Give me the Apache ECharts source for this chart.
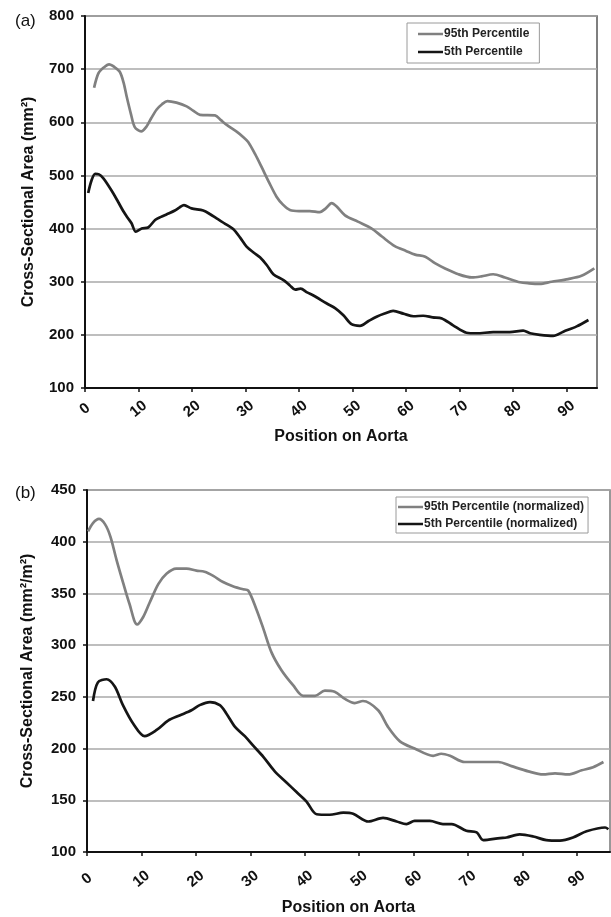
<!DOCTYPE html>
<html>
<head>
<meta charset="utf-8">
<script src="https://cdn.jsdelivr.net/npm/echarts@6/dist/echarts.min.js"></script>
<style>
html,body{margin:0;padding:0;background:#fff;}
#chart{width:611px;height:917px;}
</style>
</head>
<body>
<div id="chart"></div>
<script>
// Panel (a): absolute cross-sectional area (mm^2)
const posA95 = [1.7,2.5,3.5,4.5,5.5,6.5,7.2,7.8,8.6,9.3,10.5,11.5,12.4,13.4,14.4,15.4,17.1,19.0,20.2,21.5,24.3,25.4,26.5,28.4,29.5,30.5,31.8,33.0,34.4,35.8,37.0,38.3,40.0,42.0,43.9,45.0,46.1,47.0,48.6,51.0,53.6,55.5,57.9,60.0,61.7,63.6,65.4,67.3,69.8,72.3,74.1,76.3,78.5,81.3,83.0,85.0,87.2,90.3,92.8,95.2];
const valA95 = [665,692,703,709,704,695,675,648,615,591,583,592,608,624,634,640,637,630,622,614,613,604,595,582,573,563,540,516,487,460,445,435,433,433,431,438,448,442,425,413,400,385,367,358,351,347,335,325,314,308,310,314,308,299,297,296,300,305,311,325];
const posA5 = [0.6,1.2,1.9,2.6,3.4,4.3,5.3,6.2,7.2,8.0,8.7,9.5,10.6,11.8,13.1,14.2,15.3,16.8,17.7,18.5,19.9,22.1,23.4,24.6,26.2,27.7,29.0,30.2,31.5,32.7,34.0,35.2,37.1,38.3,39.3,40.3,41.5,42.7,45.2,46.8,48.3,49.8,51.4,53.0,54.5,56.0,57.6,59.5,61.4,63.2,65.0,66.7,68.8,71.3,73.2,76.3,79.4,81.9,83.2,85.0,87.5,89.4,91.9,94.1];
const valA5 = [467,490,503,502,495,482,466,450,432,420,410,394,400,402,416,422,427,434,440,444,438,434,427,419,409,399,383,366,355,346,331,314,303,293,285,287,280,274,259,250,237,220,217,226,234,240,245,240,235,236,233,231,218,204,203,205,205,208,203,200,198,206,216,228];

// Panel (b): normalized cross-sectional area (mm^2/m^2)
const posB95 = [0.2,1.1,2.2,3.3,4.3,5.4,6.6,7.8,9.2,10.3,11.5,13.1,14.6,16.4,18.3,20.1,21.6,23.2,25.0,26.8,28.7,29.6,31.1,32.4,33.9,35.7,37.9,39.7,41.9,43.7,45.5,47.4,49.2,50.7,53.5,55.3,57.5,60.2,63.6,65.1,66.7,69.4,72.5,75.6,78.0,81.1,83.8,86.0,88.4,90.9,93.0,94.9];
const valB95 = [410,418,422,417,405,383,361,340,320,327,341,359,369,374,374,372,371,367,361,357,354,353,335,316,293,276,261,251,251,256,255,248,244,246,237,221,207,200,193,195,193,187,187,187,183,178,175,176,175,179,182,187];
const posB5 = [1.1,2.0,3.6,5.1,6.6,8.5,10.6,12.8,14.9,17.0,19.2,20.7,22.6,24.4,25.6,27.2,29.0,30.5,32.4,34.5,36.7,38.5,40.3,42.2,44.6,47.1,48.9,51.7,54.4,56.9,58.7,60.2,63.0,65.4,67.0,69.7,71.6,72.8,75.9,77.1,79.5,82.0,84.4,86.9,89.3,91.8,95.2,95.8];
const valB5 = [246,264,267,260,242,224,212,218,227,232,237,242,245,242,234,221,212,203,192,178,167,158,149,136.5,136,138,137,129.5,133,129.5,127,130,130,127,127,120.5,119,111.5,113.5,114,117,115,111.5,111,114,120,123.7,122];

const namesA = ['95th Percentile', '5th Percentile'];
const namesB = ['95th Percentile (normalized)', '5th Percentile (normalized)'];
const xTitle = 'Position on Aorta';
const yTitleA = 'Cross-Sectional Area (mm²)';
const yTitleB = 'Cross-Sectional Area (mm²/m²)';

const zip = (xs, ys) => xs.map((x, i) => [x, ys[i]]);
const FONT = '"Liberation Sans", Arial, sans-serif';
const GRAY = '#808080';
const BLACK = '#151515';

function xAxisCfg(gridIndex, max, margin, gap) {
  return {
    type: 'value', gridIndex, min: 0, max, interval: 10,
    name: xTitle, nameLocation: 'middle', nameGap: gap,
    nameTextStyle: { fontFamily: FONT, fontWeight: 'bold', fontSize: 16, color: '#111' },
    axisLine: { lineStyle: { color: '#111', width: 2 } },
    axisTick: { show: true, length: 4, lineStyle: { color: '#111', width: 1.5 } },
    splitLine: { show: false },
    axisLabel: {
      rotate: 40, margin, align: 'center', verticalAlign: 'middle',
      fontFamily: FONT, fontWeight: 'bold', fontSize: 15, color: '#111',
      showMaxLabel: false,
      formatter: v => (v % 10 === 0 ? String(v) : '')
    }
  };
}
function yAxisCfg(gridIndex, min, max, interval, title, gap) {
  return {
    type: 'value', gridIndex, min, max, interval,
    name: title, nameLocation: 'middle', nameGap: gap, nameRotate: 90,
    nameTextStyle: { fontFamily: FONT, fontWeight: 'bold', fontSize: 16, color: '#111' },
    axisLine: { show: true, lineStyle: { color: '#111', width: 2 } },
    axisTick: { show: true, length: 4, lineStyle: { color: '#111', width: 1.5 } },
    splitLine: { show: true, lineStyle: { color: '#a8a8a8', width: 1.5 } },
    axisLabel: { margin: 11, fontFamily: FONT, fontWeight: 'bold', fontSize: 15, color: '#111' }
  };
}
function lineSeries(name, xi, data, color) {
  return {
    name, type: 'line', xAxisIndex: xi, yAxisIndex: xi, data,
    symbol: 'none', smooth: 0.3, animation: false,
    lineStyle: { color, width: 2.7 }, itemStyle: { color }
  };
}
function legendCfg(data, left, top, padding, gap) {
  return {
    data, left, top, orient: 'vertical', icon: 'rect',
    itemWidth: 25, itemHeight: 2.5, itemGap: gap, padding,
    borderColor: '#9a9a9a', borderWidth: 1, backgroundColor: '#fff',
    textStyle: { fontFamily: FONT, fontWeight: 'bold', fontSize: 12, color: '#222', padding: [0, 0, 0, -4] },
    selectedMode: false
  };
}

const chart = echarts.init(document.getElementById('chart'), null, { renderer: 'canvas' });
chart.setOption({
  backgroundColor: '#fff',
  animation: false,
  grid: [
    { left: 85, top: 16, width: 512, height: 372, show: true, borderColor: '#555', borderWidth: 1.5, backgroundColor: 'transparent' },
    { left: 87, top: 490, width: 523, height: 364, show: true, borderColor: '#777', borderWidth: 1.5, backgroundColor: 'transparent' }
  ],
  xAxis: [ xAxisCfg(0, 95.7, 21, 41), xAxisCfg(1, 96.1, 27, 48) ],
  yAxis: [ yAxisCfg(0, 100, 800, 100, yTitleA, 48), yAxisCfg(1, 100, 450, 50, yTitleB, 51) ],
  legend: [
    legendCfg(namesA, 407, 23, [5, 10, 5, 11], 6),
    legendCfg(namesB, 396, 497, [4, 4, 3, 2], 5)
  ],
  graphic: [
    { type: 'text', left: 15, top: 13, style: { text: '(a)', font: '17px ' + FONT, fill: '#111' } },
    { type: 'text', left: 15, top: 485, style: { text: '(b)', font: '17px ' + FONT, fill: '#111' } }
  ],
  series: [
    lineSeries(namesA[0], 0, zip(posA95, valA95), GRAY),
    lineSeries(namesA[1], 0, zip(posA5, valA5), BLACK),
    lineSeries(namesB[0], 1, zip(posB95, valB95), GRAY),
    lineSeries(namesB[1], 1, zip(posB5, valB5), BLACK)
  ]
});
</script>
</body>
</html>
